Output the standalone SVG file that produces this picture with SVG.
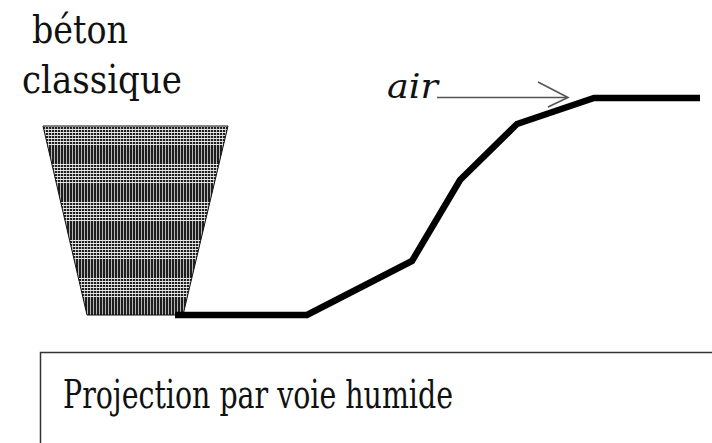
<svg xmlns="http://www.w3.org/2000/svg" width="712" height="443" viewBox="0 0 712 443">
<style>
.lbl{font-family:'DejaVu Serif',serif;fill:#111;}
.thick{fill:none;stroke:#000;stroke-width:6.5;stroke-linejoin:miter;}
.arrow{fill:none;stroke:#555;stroke-width:1.6;}
</style>
<defs>
<pattern id="grid" patternUnits="userSpaceOnUse" x="43" y="126" width="3" height="38">
<rect width="3" height="38" fill="#1e1e1e"/>
<rect x="2" width="0.8" height="38" fill="#dcdcdc"/>
<rect y="0" width="3" height="1" fill="#e6e6e6"/>
<rect y="3" width="3" height="1" fill="#e6e6e6"/>
<rect y="6" width="3" height="1" fill="#e6e6e6"/>
<rect y="9" width="3" height="1" fill="#e6e6e6"/>
<rect y="12" width="3" height="1" fill="#e6e6e6"/>
<rect y="15" width="3" height="1" fill="#e6e6e6"/>
<rect y="18" width="3" height="1" fill="#e6e6e6"/>
</pattern>
</defs>
<rect width="712" height="443" fill="#fff"/>
<g id="beton">
<polygon points="43,126 228,126 183,315 87,315" fill="url(#grid)" stroke="#111" stroke-width="1"/>
<text class="lbl" x="32" y="43" font-size="40" textLength="96" lengthAdjust="spacingAndGlyphs">béton</text>
<text class="lbl" x="22" y="93" font-size="40" textLength="160" lengthAdjust="spacingAndGlyphs">classique</text>
</g>
<g id="connectors">
<line class="arrow" x1="437" y1="97.5" x2="567" y2="97.5"/>
<polyline class="arrow" points="538,82 568,97.5 548,107"/>
<polyline class="thick" points="175,315 307,315 412,261 460,180 517,124 594,98 700,98"/>
</g>
<g id="air">
<text class="lbl" x="387" y="98" font-size="34" font-style="italic" textLength="51" lengthAdjust="spacingAndGlyphs">air</text>
</g>
<g id="caption">
<rect x="40.5" y="352.5" width="690" height="120" fill="none" stroke="#333" stroke-width="1.5"/>
<text class="lbl" x="63" y="408" font-size="40" textLength="390" lengthAdjust="spacingAndGlyphs">Projection par voie humide</text>
</g>
</svg>
